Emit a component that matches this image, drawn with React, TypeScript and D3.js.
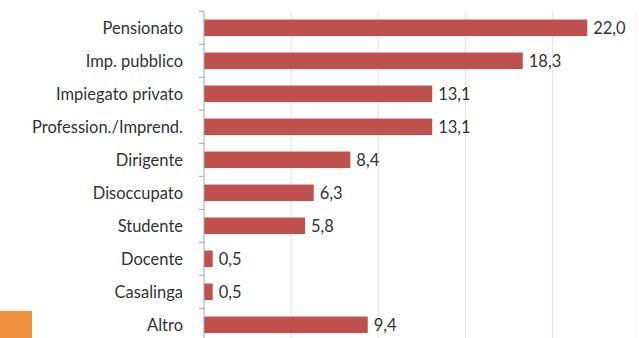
import React from "react";
import * as d3 from "d3";

const categories = [
  "Pensionato",
  "Imp. pubblico",
  "Impiegato privato",
  "Profession./Imprend.",
  "Dirigente",
  "Disoccupato",
  "Studente",
  "Docente",
  "Casalinga",
  "Altro",
];
const values = [22.0, 18.3, 13.1, 13.1, 8.4, 6.3, 5.8, 0.5, 0.5, 9.4];
const gridTicks = [5, 10, 15, 20];

const W = 639;
const H = 338;

export default function App() {
  const x = d3.scaleLinear().domain([0, 25]).range([204, 639.5]);
  const y = d3
    .scaleBand<string>()
    .domain(categories)
    .range([11.3, 341.3])
    .paddingInner(0.5)
    .paddingOuter(0.25);
  const step = y.step();
  const fmt = (v: number) => v.toFixed(1).replace(".", ",");
  const font = "Lato, 'Open Sans', sans-serif";

  return (
    <svg
      width={W}
      height={H}
      style={{ position: "fixed", left: 0, top: 0, background: "#fff" }}
    >
      <rect x={0} y={0} width={W} height={H} fill="#fff" />
      {gridTicks.map((t) => (
        <line
          key={t}
          x1={x(t)}
          x2={x(t)}
          y1={11.3}
          y2={H}
          stroke="#e3e3e3"
          strokeWidth={1}
        />
      ))}
      <line x1={636} x2={636} y1={11} y2={H} stroke="#f2f2f2" strokeWidth={1} />
      {categories.map((c, i) => (
        <rect
          key={c}
          x={x(0)}
          y={y(c)!}
          width={x(values[i]) - x(0)}
          height={y.bandwidth()}
          fill="#c0504d"
        />
      ))}
      <line x1={x(0)} x2={x(0)} y1={11.3} y2={H} stroke="#a6a6a6" strokeWidth={1} />
      {d3.range(categories.length + 1).map((i) => (
        <line
          key={i}
          x1={x(0) - 5}
          x2={x(0)}
          y1={11.3 + i * step}
          y2={11.3 + i * step}
          stroke="#a6a6a6"
          strokeWidth={1}
        />
      ))}
      {categories.map((c) => (
        <text
          key={c}
          x={183}
          y={y(c)! + y.bandwidth() / 2}
          dy="0.36em"
          textAnchor="end"
          fontFamily={font}
          fontSize={16.5}
          fill="#333"
        >
          {c}
        </text>
      ))}
      {categories.map((c, i) => (
        <text
          key={c}
          x={x(values[i]) + 6}
          y={y(c)! + y.bandwidth() / 2}
          dy="0.36em"
          fontFamily={font}
          fontSize={16.5}
          fill="#333"
        >
          {fmt(values[i])}
        </text>
      ))}
      <rect x={0} y={311} width={32} height={27} fill="#f0913f" />
    </svg>
  );
}
